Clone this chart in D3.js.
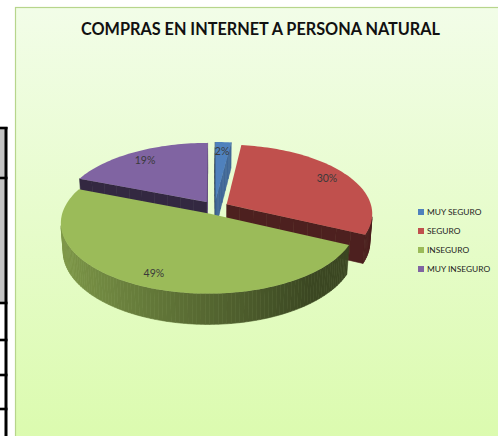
<!DOCTYPE html>
<html>
<head>
<meta charset="utf-8">
<script src="https://cdn.jsdelivr.net/npm/d3@7"></script>
<style>
  html, body { margin: 0; padding: 0; background: #ffffff; overflow: hidden; }
  svg { display: block; }
</style>
</head>
<body>
<svg id="chart" width="498" height="436"></svg>
<script>
// ---- data ----
const categories = ["MUY SEGURO", "SEGURO", "INSEGURO", "MUY INSEGURO"];
const values = [2, 30, 49, 19];
const valueLabels = ["2%", "30%", "49%", "19%"];
const colors = ["#4f81bd", "#c0504d", "#9bbb59", "#8064a2"];
const chartTitle = "COMPRAS EN INTERNET A PERSONA NATURAL";

// ---- page frame ----
const W = 498, H = 436;
const svg = d3.select("#chart");
const defs = svg.append("defs");
const bg = defs.append("linearGradient").attr("id", "bg")
  .attr("x1", 0).attr("y1", 0).attr("x2", 0).attr("y2", 1);
bg.append("stop").attr("offset", "0%").attr("stop-color", "#f2fde8");
bg.append("stop").attr("offset", "100%").attr("stop-color", "#dbfbae");

// edge of the neighbouring worksheet table
const sheet = svg.append("g");
sheet.append("rect").attr("x", 0).attr("y", 129).attr("width", 5).attr("height", 174).attr("fill", "#c3c3c3");
sheet.append("rect").attr("x", 4.5).attr("y", 127).attr("width", 3).attr("height", H - 127).attr("fill", "#000");
[128, 178, 303, 340, 375, 409].forEach(y => {
  sheet.append("rect").attr("x", 0).attr("y", y - 1.3).attr("width", 7.5).attr("height", 2.6).attr("fill", "#000");
});

// chart area
svg.append("rect")
  .attr("x", 15.5).attr("y", 7.5).attr("width", W).attr("height", H)
  .attr("fill", "url(#bg)").attr("stroke", "#b7d58c").attr("stroke-width", 1.2);

svg.append("text")
  .attr("x", 260.5).attr("y", 35)
  .attr("text-anchor", "middle")
  .attr("font-family", "Lato, 'Open Sans', sans-serif")
  .attr("font-weight", 700).attr("font-size", 16.5)
  .attr("fill", "#111")
  .attr("textLength", 359).attr("lengthAdjust", "spacingAndGlyphs")
  .text(chartTitle);

// ---- 3D pie ----
const R = 145;                     // disc radius
const tilt = 28 * Math.PI / 180;   // elevation of the viewpoint
const focal = 1000;                // perspective distance
const depth = 32;                  // disc thickness
const explode = 14;                // slice pull-out distance
const Ox = 214.5, Oy = 207.5;      // screen position of the disc centre
const sT = Math.sin(tilt), cT = Math.cos(tilt);

// u: right, v: away from viewer, z: up
function project(u, v, z) {
  const Y = v * sT + z * cT;
  const Zc = v * cT - z * sT;
  const s = focal / (focal + Zc);
  return { x: Ox + u * s, y: Oy - Y * s, z: Zc };
}

const arcs = d3.pie().sort(null).value(d => d)
  .startAngle(0).endAngle(2 * Math.PI)(values);

function shade(color, k) {
  const c = d3.rgb(color);
  return d3.rgb(c.r * k, c.g * k, c.b * k).formatHex();
}
function outerShade(theta) {
  return Math.max(0.38, 0.55 + 0.27 * (-Math.sin(theta)));
}

const line = d3.line().x(p => p.x).y(p => p.y).curve(d3.curveLinearClosed);
function signedArea(pts) {
  let a = 0;
  for (let i = 0; i < pts.length; i++) {
    const p = pts[i], q = pts[(i + 1) % pts.length];
    a += p.x * q.y - q.x * p.y;
  }
  return a;
}

const wallQuads = [];
const tops = [];

arcs.forEach((a, i) => {
  const mid = (a.startAngle + a.endAngle) / 2;
  const du = explode * Math.sin(mid), dv = explode * Math.cos(mid);
  const P = (theta, r, z) => project(du + r * Math.sin(theta), dv + r * Math.cos(theta), z);
  const steps = Math.max(2, Math.ceil((a.endAngle - a.startAngle) / (Math.PI / 120)));
  const thetas = d3.range(steps + 1).map(k => a.startAngle + (a.endAngle - a.startAngle) * k / steps);

  // top face
  tops.push({ i, pts: [P(0, 0, 0)].concat(thetas.map(t => P(t, R, 0))), mid, du, dv });

  // curved outer wall
  for (let k = 0; k < steps; k++) {
    const t0 = thetas[k], t1 = thetas[k + 1];
    const pts = [P(t0, R, 0), P(t1, R, 0), P(t1, R, -depth), P(t0, R, -depth)];
    wallQuads.push({ pts, fill: shade(colors[i], outerShade((t0 + t1) / 2)) });
  }

  // radial walls, split along the radius for depth ordering
  const n = 10;
  for (let k = 0; k < n; k++) {
    const r0 = R * k / n, r1 = R * (k + 1) / n;
    const te = a.endAngle, ts = a.startAngle;
    const endFace = [P(te, r1, 0), P(te, r0, 0), P(te, r0, -depth), P(te, r1, -depth)];
    const startFace = [P(ts, r0, 0), P(ts, r1, 0), P(ts, r1, -depth), P(ts, r0, -depth)];
    wallQuads.push({ pts: endFace, fill: shade(colors[i], Math.sin(te + Math.PI / 2) > 0 ? 0.8 : 0.4) });
    wallQuads.push({ pts: startFace, fill: shade(colors[i], Math.sin(ts - Math.PI / 2) > 0 ? 0.8 : 0.4) });
  }
});

// walls: keep only those facing the viewer, paint far to near
const visibleWalls = wallQuads
  .filter(q => signedArea(q.pts) < 0)
  .map(q => Object.assign(q, { zc: d3.mean(q.pts, p => p.z) }))
  .sort((a, b) => b.zc - a.zc);

const pieG = svg.append("g");
pieG.selectAll("path.wall").data(visibleWalls).join("path")
  .attr("class", "wall")
  .attr("d", q => line(q.pts))
  .attr("fill", q => q.fill)
  .attr("stroke", q => q.fill)
  .attr("stroke-width", 0.6)
  .attr("stroke-linejoin", "round");

pieG.selectAll("path.top").data(tops).join("path")
  .attr("class", "top")
  .attr("d", t => line(t.pts))
  .attr("fill", t => colors[t.i]);

// value labels on the top faces
pieG.selectAll("text.val").data(tops).join("text")
  .attr("class", "val")
  .each(function (t) {
    const r = R * 0.84;
    const p = project(t.du + r * Math.sin(t.mid), t.dv + r * Math.cos(t.mid), 0);
    d3.select(this).attr("x", p.x).attr("y", p.y + 4);
  })
  .attr("text-anchor", "middle")
  .attr("font-family", "Lato, 'Open Sans', sans-serif")
  .attr("font-size", 10.5)
  .attr("fill", "#3a3a3a")
  .text(t => valueLabels[t.i]);

// ---- legend ----
const legend = svg.append("g").attr("transform", "translate(418,212)");
const rows = legend.selectAll("g").data(categories).join("g")
  .attr("transform", (d, i) => `translate(0,${i * 19})`);
rows.append("rect").attr("x", 0).attr("y", -3).attr("width", 6).attr("height", 6)
  .attr("fill", (d, i) => colors[i]);
rows.append("text").attr("x", 9).attr("y", 3.3)
  .attr("font-family", "Lato, 'Open Sans', sans-serif")
  .attr("font-size", 8.4)
  .attr("fill", "#222")
  .text(d => d);
</script>
</body>
</html>
